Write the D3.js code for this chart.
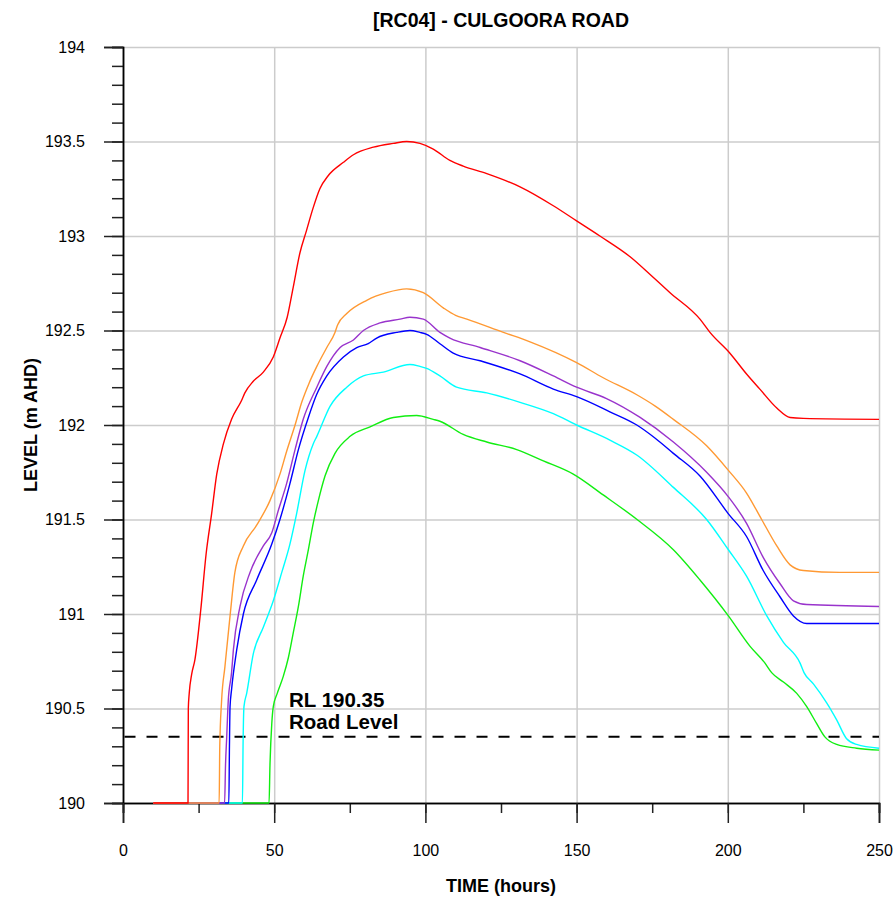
<!DOCTYPE html>
<html>
<head>
<meta charset="utf-8">
<style>
body { margin: 0; background: #fff; }
svg text { font-family: "Liberation Sans", Arial, sans-serif; }
.axis .domain { stroke: #000; stroke-width: 1.5; }
.axis line { stroke: #222; stroke-width: 1.5; }
.grid .domain { display: none; }
.grid line { stroke: #cccccc; stroke-width: 1.5; }
</style>
</head>
<body>
<svg width="894" height="901"></svg>
<script src="https://cdn.jsdelivr.net/npm/d3@7/dist/d3.min.js"></script>
<script>

// level hydrographs, [time (hours), level (m AHD)]
var red = [[10,190],[21.5,190],[21.6,190.5],[21.9,190.58],[22.7,190.68],[23.8,190.76],[25.7,191.02],[27.5,191.32],[29.3,191.53],[31,191.74],[33.2,191.9],[35.9,192.03],[39.2,192.13],[40.3,192.17],[43,192.23],[46.4,192.28],[49.7,192.36],[51.9,192.46],[54.3,192.57],[56.3,192.73],[58.5,192.91],[60.7,193.03],[62.9,193.15],[65.1,193.25],[67.9,193.32],[72.9,193.39],[76.2,193.43],[82.8,193.47],[89.4,193.49],[93.8,193.5],[98.2,193.49],[102.6,193.46],[108.1,193.4],[112.5,193.37],[120.3,193.33],[131.3,193.26],[142.3,193.16],[150,193.08],[157.7,193.0],[167.7,192.89],[175.4,192.78],[180.9,192.7],[190.8,192.56],[194.1,192.49],[200.7,192.38],[206.2,192.27],[210.6,192.19],[216.2,192.09],[220.6,192.04],[225,192.035],[250,192.03]];

var orange = [[10,190],[31.8,190],[32,190.3],[32.6,190.54],[33.7,190.72],[35.4,190.99],[37,191.22],[39.8,191.36],[44.2,191.47],[48.6,191.6],[51.9,191.74],[54.1,191.86],[56.9,192.0],[59.1,192.12],[61.5,192.22],[64.1,192.31],[67.4,192.41],[70.1,192.49],[71,192.53],[74,192.59],[80.6,192.66],[87.2,192.7],[93.8,192.72],[99.3,192.7],[105.9,192.62],[110,192.58],[113.7,192.56],[125.8,192.49],[134.6,192.44],[150,192.33],[158.8,192.25],[169.9,192.16],[176,192.1],[182,192.03],[193,191.89],[200.2,191.76],[206.2,191.64],[211.2,191.5],[216.2,191.36],[220.6,191.26],[225,191.23],[237.1,191.22],[250,191.22]];

var purple = [[10,190],[33.6,190],[33.9,190.2],[34.3,190.35],[34.8,190.54],[35.9,190.69],[36.5,190.81],[38.7,191.04],[42,191.22],[46.4,191.36],[49.2,191.43],[51.4,191.55],[54.1,191.69],[56.9,191.87],[59.6,192.03],[64.1,192.2],[67.4,192.31],[71.8,192.41],[76.2,192.45],[79.5,192.5],[85,192.54],[91.6,192.56],[94.9,192.57],[99.3,192.56],[104.8,192.49],[108.1,192.46],[118.1,192.41],[131.3,192.34],[142.3,192.26],[150,192.2],[159.9,192.14],[171,192.04],[182,191.91],[193,191.75],[200.2,191.62],[206.2,191.48],[211.7,191.3],[217.3,191.16],[221.7,191.07],[226.1,191.05],[250,191.04]];

var blue = [[10,190],[35,190],[35.2,190.3],[35.4,190.51],[35.9,190.6],[37.6,190.81],[39.8,191.0],[44.2,191.18],[49.2,191.37],[51.9,191.5],[55.2,191.69],[58,191.87],[61.3,192.04],[64,192.16],[67.4,192.26],[72.9,192.36],[77.3,192.41],[81.1,192.43],[83.9,192.46],[90.5,192.49],[94.9,192.5],[98.2,192.49],[100.4,192.48],[104.8,192.43],[109.2,192.38],[118.1,192.34],[131.3,192.27],[142.3,192.19],[150,192.15],[161,192.07],[169.9,192.0],[176,191.93],[182,191.85],[190.8,191.73],[200.2,191.53],[206.2,191.41],[211.7,191.23],[217.3,191.09],[221.7,190.99],[226.1,190.95],[250,190.95]];

var cyan = [[10,190],[39.5,190],[39.7,190.3],[40,190.51],[40.9,190.58],[43.1,190.79],[46.4,190.93],[49.7,191.07],[52.5,191.22],[55.2,191.37],[57.4,191.53],[60.2,191.76],[62.9,191.9],[64.1,191.94],[68.5,192.1],[74,192.2],[79.5,192.26],[86.1,192.28],[94.9,192.32],[98.2,192.31],[100.4,192.3],[104.8,192.26],[110.3,192.2],[120.3,192.17],[131.3,192.12],[142.3,192.06],[150,192.0],[161,191.92],[170,191.84],[182,191.67],[193,191.5],[200.2,191.34],[206.2,191.2],[212.9,190.99],[218.4,190.85],[223.9,190.74],[225.2,190.69],[228.3,190.63],[232.7,190.53],[236,190.44],[239.3,190.34],[242.6,190.31],[250,190.29]];

var green = [[10,190],[48.3,190],[48.6,190.2],[49.2,190.42],[49.7,190.51],[51,190.58],[53,190.67],[54.7,190.77],[56.3,190.9],[58,191.04],[59.6,191.2],[61.3,191.34],[62.9,191.48],[64.6,191.6],[66.8,191.73],[70.1,191.85],[75.1,191.94],[81.7,191.99],[89.4,192.04],[97.1,192.05],[102.6,192.03],[104.8,192.02],[112.5,191.95],[120.3,191.91],[130.2,191.87],[139,191.81],[148.9,191.74],[158.8,191.63],[170,191.5],[182,191.34],[190.8,191.18],[200.2,190.99],[207.3,190.83],[212.3,190.74],[214.5,190.69],[218.4,190.64],[222.8,190.58],[226.1,190.51],[229.4,190.42],[232.1,190.35],[236,190.31],[242.6,190.29],[250,190.28]];

var xTicks = [0, 50, 100, 150, 200, 250];
var yTicks = [190, 190.5, 191, 191.5, 192, 192.5, 193, 193.5, 194];
var roadLevel = 190.35;

var svg = d3.select("svg"),
    margin = {top: 47, right: 15, bottom: 98, left: 123},
    width = +svg.attr("width") - margin.left - margin.right,
    height = +svg.attr("height") - margin.top - margin.bottom,
    g = svg.append("g").attr("transform", "translate(" + margin.left + "," + margin.top + ")");

var x = d3.scaleLinear().domain([0, 250]).range([0, width]);
var y = d3.scaleLinear().domain([190, 194]).range([height, 0]);

// grid
g.append("g")
    .attr("class", "grid")
    .call(d3.axisLeft(y).tickValues(yTicks.slice(1)).tickSize(-width).tickFormat(""));
g.append("g")
    .attr("class", "grid")
    .attr("transform", "translate(0," + height + ")")
    .call(d3.axisBottom(x).tickValues(xTicks.slice(1)).tickSize(-height).tickFormat(""));

// minor ticks
g.append("g")
    .attr("class", "axis")
    .call(d3.axisLeft(y).tickValues(d3.range(190, 194.01, 0.1)).tickSize(11).tickFormat(""));
g.append("g")
    .attr("class", "axis")
    .attr("transform", "translate(0," + height + ")")
    .call(d3.axisBottom(x).tickValues(d3.range(0, 251, 25)).tickSize(10).tickFormat(""));

// major ticks + labels
var yAxis = g.append("g")
    .attr("class", "axis")
    .call(d3.axisLeft(y).tickValues(yTicks).tickSize(19).tickPadding(19).tickFormat(d3.format("")));
yAxis.selectAll("text").attr("font-size", 16).attr("fill", "#000").style("font-family", "Liberation Sans, Arial, sans-serif");

var xAxis = g.append("g")
    .attr("class", "axis")
    .attr("transform", "translate(0," + height + ")")
    .call(d3.axisBottom(x).tickValues(xTicks).tickSize(20).tickPadding(22));
xAxis.selectAll("text").attr("font-size", 16).attr("fill", "#000").style("font-family", "Liberation Sans, Arial, sans-serif");

// road level
g.append("line")
    .attr("x1", x(0.5))
    .attr("x2", x(250))
    .attr("y1", y(roadLevel))
    .attr("y2", y(roadLevel))
    .attr("stroke", "#000")
    .attr("stroke-width", 2)
    .attr("stroke-dasharray", "11,11");

g.append("text")
    .attr("x", x(54.9))
    .attr("y", y(roadLevel) - 30)
    .attr("font-size", 20.5)
    .attr("font-weight", "bold")
    .text("RL 190.35");
g.append("text")
    .attr("x", x(54.9))
    .attr("y", y(roadLevel) - 8)
    .attr("font-size", 20.5)
    .attr("font-weight", "bold")
    .text("Road Level");

var line = d3.line()
    .x(function(d) { return x(d[0]); })
    .y(function(d) { return y(d[1]); })
    .curve(d3.curveMonotoneX);

var series = [
  {data: green, color: "#11ee11"},
  {data: cyan, color: "#00ffff"},
  {data: blue, color: "#0000ff"},
  {data: purple, color: "#9933cc"},
  {data: orange, color: "#ff9933"},
  {data: red, color: "#ff0000"}
];

g.append("g")
  .selectAll("path")
  .data(series)
  .enter().append("path")
    .attr("fill", "none")
    .attr("stroke", function(d) { return d.color; })
    .attr("stroke-width", 1.4)
    .attr("d", function(d) { return line(d.data); });

// titles
svg.append("text")
    .attr("x", margin.left + width / 2)
    .attr("y", 27)
    .attr("text-anchor", "middle")
    .attr("font-size", 19.5)
    .attr("font-weight", "bold")
    .text("[RC04] - CULGOORA ROAD");

svg.append("text")
    .attr("x", margin.left + width / 2)
    .attr("y", 892)
    .attr("text-anchor", "middle")
    .attr("font-size", 18)
    .attr("font-weight", "bold")
    .text("TIME (hours)");

svg.append("text")
    .attr("transform", "translate(37," + (margin.top + height / 2) + ") rotate(-90)")
    .attr("text-anchor", "middle")
    .attr("font-size", 18)
    .attr("font-weight", "bold")
    .text("LEVEL (m AHD)");

</script>
</body>
</html>
